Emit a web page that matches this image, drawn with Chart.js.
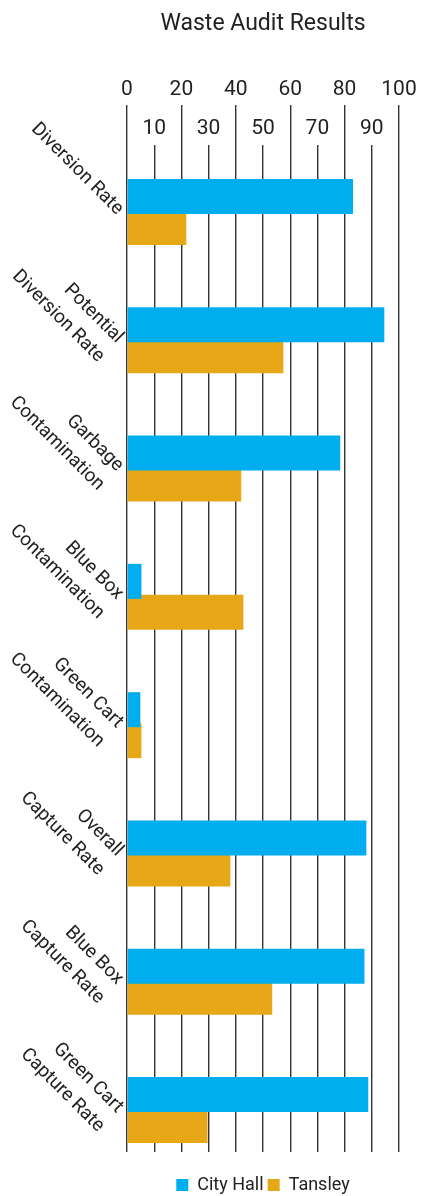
<!DOCTYPE html>
<html>
<head>
<meta charset="utf-8">
<title>Waste Audit Results</title>
<script src="https://cdn.jsdelivr.net/npm/chart.js@4.4.1/dist/chart.umd.min.js"></script>
<style>
  html, body { margin: 0; padding: 0; background: #ffffff; }
  canvas { display: block; }
</style>
</head>
<body>
<canvas id="chart" width="422" height="1196"></canvas>
<script>
// Audit categories (multi-line labels) and results per site, in percent
const categories = [
  'Diversion Rate',
  ['Potential', 'Diversion Rate'],
  ['Garbage', 'Contamination'],
  ['Blue Box', 'Contamination'],
  ['Green Cart', 'Contamination'],
  ['Overall', 'Capture Rate'],
  ['Blue Box', 'Capture Rate'],
  ['Green Cart', 'Capture Rate']
];
const cityHall = [83.1, 94.6, 78.4, 5.3, 4.9, 88.0, 87.3, 88.7];
const tansley  = [21.8, 57.5, 42.0, 42.8, 5.3, 38.0, 53.4, 29.6];
const seriesNames = ['City Hall', 'Tansley'];
const xTickValues = [0, 10, 20, 30, 40, 50, 60, 70, 80, 90, 100];

const FONT = 'Roboto, "Open Sans", sans-serif';
const INK = '#222222';
const GRID = '#333333';

const toPoints = values => values.map((v, i) => ({ x: v, y: i }));

// Multi-line category labels hang from their first line: a leading blank
// line makes Chart.js centre the block on the first text line.
const categoryLabel = i => {
  const lab = categories[i];
  return Array.isArray(lab) ? ['', ...lab] : lab;
};

new Chart(document.getElementById('chart'), {
  type: 'bar',
  data: {
    datasets: [
      {
        label: seriesNames[0],
        data: toPoints(cityHall),
        backgroundColor: '#00AEEF',
        borderWidth: 0,
        categoryPercentage: 0.483,
        barPercentage: 1.13
      },
      {
        label: seriesNames[1],
        data: toPoints(tansley),
        backgroundColor: '#E6A817',
        borderWidth: 0,
        categoryPercentage: 0.483,
        barPercentage: 1.13
      }
    ]
  },
  options: {
    indexAxis: 'y',
    responsive: false,
    animation: false,
    layout: { padding: { left: 0, right: 23, top: 0, bottom: -8 } },
    scales: {
      x: {
        type: 'linear',
        position: 'top',
        min: 0,
        max: 100,
        afterBuildTicks: s => { s.ticks = xTickValues.map(v => ({ value: v })); },
        afterFit: s => { s.height = 100.4; },
        border: { display: false },
        grid: {
          color: GRID,
          lineWidth: 1.4,
          drawTicks: true,
          tickLength: 40,
          tickWidth: 1.4,
          tickColor: ctx => (ctx.tick && ctx.tick.value % 20 === 0) ? GRID : 'rgba(0,0,0,0)'
        },
        ticks: {
          autoSkip: false,
          maxRotation: 0,
          minRotation: 0,
          padding: -43.5,
          color: INK,
          font: { family: FONT, size: 21, weight: '400', lineHeight: 39 / 21 },
          // staggered rows: multiples of 20 on the upper row, the rest below
          callback: v => (v % 20 === 0) ? [String(v), ''] : ['', String(v)]
        }
      },
      y: {
        type: 'linear',
        reverse: true,
        offset: false,
        min: -0.522,
        max: 7.327,
        afterBuildTicks: s => { s.ticks = categories.map((_, i) => ({ value: i })); },
        afterFit: s => { s.width = 127; },
        border: { display: false },
        grid: { display: false, drawTicks: false, offset: false },
        ticks: {
          autoSkip: false,
          minRotation: -45,
          maxRotation: -45,
          padding: 7,
          color: INK,
          font: { family: FONT, size: 19, weight: '400', lineHeight: 27 / 19 },
          callback: v => categoryLabel(v)
        }
      }
    },
    plugins: {
      title: {
        display: true,
        text: 'Waste Audit Results',
        fullSize: false,
        color: INK,
        font: { family: FONT, size: 23, weight: '400', lineHeight: 1.2 },
        padding: { top: 10, bottom: 7 }
      },
      legend: {
        display: true,
        position: 'bottom',
        fullSize: false,
        title: { display: true, text: '', padding: { top: 19, bottom: 0 }, font: { size: 1, lineHeight: 1 } },
        labels: {
          boxWidth: 12,
          boxHeight: 12,
          padding: 4,
          color: INK,
          font: { family: FONT, size: 18, weight: '400' }
        }
      },
      tooltip: { enabled: false }
    }
  }
});
</script>
</body>
</html>
